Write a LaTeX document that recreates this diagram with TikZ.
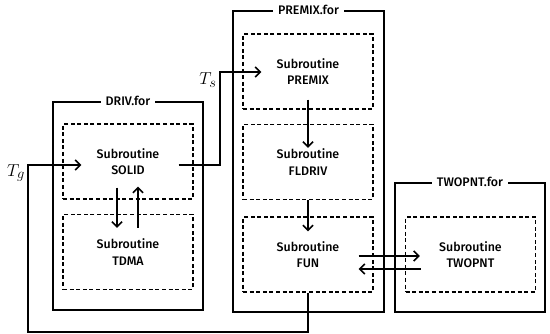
\documentclass[tikz,border=0pt]{standalone}
\usepackage{fontspec}
\setmainfont{Fira Sans}
\newfontfamily\boxfont{Fira Sans Medium}
\usepackage{xcolor}
\usepackage{tikz}
\usetikzlibrary{arrows.meta,positioning,calc}
\tikzset{
  filebox/.style={draw,line width=1.6pt,inner sep=0pt},
  subbox/.style={draw,line width=1.4pt,dash pattern=on 4pt off 2.6pt,minimum width=130pt,
    minimum height=75pt,align=center,font=\boxfont\fontsize{12.4}{16.5}\selectfont},
  filelabel/.style={fill=white,inner xsep=5pt,inner ysep=1pt,font=\boxfont\fontsize{12.4}{14}\selectfont},
  arr/.style={line width=1.6pt,-{Straight Barb[length=5pt,width=10pt,line width=1.6pt]}},
  wire/.style={line width=1.6pt},
  varlabel/.style={font=\fontsize{19}{22}\selectfont}
}
\begin{document}
\begin{tikzpicture}[x=1pt,y=-1pt]
\useasboundingbox (0,0) rectangle (550,334);
% file frames
\node[filebox,minimum width=150pt,minimum height=208pt] (drivf) at (128,206) {};
\node[filebox,minimum width=151pt,minimum height=301pt] (premixf) at (308.5,161.5) {};
\node[filebox,minimum width=150pt,minimum height=129pt] (twopntf) at (470,247.5) {};
\node[filelabel] at (drivf.north) {DRIV.for};
\node[filelabel] at (premixf.north) {PREMIX.for};
\node[filelabel] at (twopntf.north) {TWOPNT.for};
% subroutines
\node[subbox] (solid) at (128,161.5) {Subroutine\\SOLID};
\node[subbox] (tdma) at (128,252) {Subroutine\\TDMA};
\node[subbox] (premix) at (308,71.5) {Subroutine\\PREMIX};
\node[subbox] (fldriv) at (308,162) {Subroutine\\FLDRIV};
\node[subbox] (fun) at (308,254.5) {Subroutine\\FUN};
\node[subbox] (twopnt) at (470.5,254.5) {Subroutine\\TWOPNT};
% variables
\node[varlabel] (tg) at (16,173) {$T_g$};
\node[varlabel] (ts) at (208,80) {$T_s$};
\coordinate (loop) at (28,332);
% calls
\draw[arr] ([xshift=-11pt,yshift=12pt]solid.south) -- ([xshift=-11pt,yshift=-14pt]tdma.north);
\draw[arr] ([xshift=10pt,yshift=-14pt]tdma.north) -- ([xshift=10pt,yshift=13pt]solid.south);
\draw[arr] ([yshift=10pt]premix.south) -- ([yshift=-24pt]fldriv.north);
\draw[arr] (fldriv.south) -- ([yshift=-15pt]fun.north);
\draw[arr] ([xshift=-15pt,yshift=-1.5pt]fun.east) -- ([xshift=15pt,yshift=-1.5pt]twopnt.west);
\draw[arr] ([xshift=16pt,yshift=-14.5pt]twopnt.west) -- ([xshift=-15pt,yshift=-14.5pt]fun.east);
\draw[arr] ([xshift=-15pt,yshift=-3.5pt]solid.east) -- ++(41,0) |- ([xshift=19pt,yshift=-0.5pt]premix.west);
\draw[arr] (fun.south) |- (loop) |- ([xshift=19pt,yshift=-3.5pt]solid.west);
\end{tikzpicture}
\end{document}
